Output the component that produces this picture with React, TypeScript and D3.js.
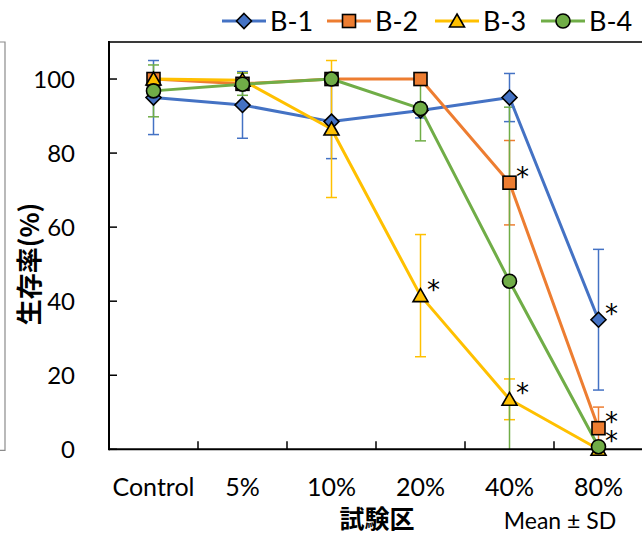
import React from "react";
import * as d3 from "d3";

const categories = ["Control", "5%", "10%", "20%", "40%", "80%"];
const seriesNames = ["B-1", "B-2", "B-3", "B-4"];
const b1Mean = [95, 93, 88.5, 91.5, 95, 35];
const b1Sd = [10, 9, 10, 2, 6.5, 19];
const b2Mean = [100, 98.7, 100, 100, 72, 5.7];
const b2Sd = [0, 0, 0, 0, 11.4, 5.7];
const b3Mean = [100, 99.7, 86.5, 41.5, 13.5, 0];
const b3Sd = [0, 2, 18.5, 16.5, 5.5, 0];
const b4Mean = [96.8, 98.6, 100, 92, 45.4, 0.7];
const b4Sd = [7, 3, 0, 8.7, 47, 0];
const yTicks = [0, 20, 40, 60, 80, 100];
const starSeries = ["B-3", "B-2", "B-3", "B-1", "B-2", "B-4"];
const starCats = ["20%", "40%", "40%", "80%", "80%", "80%"];

const colors = ["#4472C4", "#ED7D31", "#FFC000", "#70AD47"];
const shapes = ["diamond", "square", "triangle", "circle"];
const means = [b1Mean, b2Mean, b3Mean, b4Mean];
const sds = [b1Sd, b2Sd, b3Sd, b4Sd];

const LATIN = "Lato, 'Open Sans', sans-serif";
const CJK = "'Noto Sans CJK JP', sans-serif";

function Marker({ shape, x, y, color }: { shape: string; x: number; y: number; color: string }) {
  const sw = 1.6;
  if (shape === "diamond") {
    const r = 7.5;
    return <path d={`M${x},${y - r}L${x + r},${y}L${x},${y + r}L${x - r},${y}Z`} fill={color} stroke="#000" strokeWidth={sw} />;
  }
  if (shape === "square") {
    const r = 6.5;
    return <rect x={x - r} y={y - r} width={2 * r} height={2 * r} fill={color} stroke="#000" strokeWidth={sw} />;
  }
  if (shape === "triangle") {
    return <path d={`M${x},${y - 7}L${x + 7.5},${y + 6}L${x - 7.5},${y + 6}Z`} fill={color} stroke="#000" strokeWidth={sw} />;
  }
  return <circle cx={x} cy={y} r={7} fill={color} stroke="#000" strokeWidth={sw} />;
}

export default function App() {
  const W = 642, H = 535;
  const left = 109, right = 643, top = 42, bottom = 449.3;
  const x = d3.scaleBand<string>().domain(categories).range([left, right]).padding(0);
  const y = d3.scaleLinear().domain([0, 110]).range([bottom, top]);
  const cx = (c: string) => (x(c) as number) + x.bandwidth() / 2;
  const lineGen = d3.line<number>().x((_, i) => cx(categories[i])).y((v) => y(v));
  const tickXs = d3.range(categories.length + 1).map((i) => left + i * x.bandwidth());
  const capW = 5.5;

  return (
    <svg width={W} height={H} style={{ position: "absolute", left: 0, top: 0, background: "#fff" }}>
      {/* left partial frame */}
      <path d={`M0,${top}H5V${bottom + 1}H0`} fill="none" stroke="#8c8c8c" strokeWidth={1.2} />
      {/* top border */}
      <line x1={left} x2={W} y1={top} y2={top} stroke="#3a3a3a" strokeWidth={2} />

      {/* error bars */}
      {means.map((m, s) => (
        <g key={"e" + s} stroke={colors[s]} strokeWidth={1.5}>
          {m.map((v, i) => {
            const sd = sds[s][i];
            if (!sd) return null;
            const xc = cx(categories[i]);
            const hi = y(Math.min(110, v + sd));
            const loV = v - sd;
            const lo = y(Math.max(0, loV));
            return (
              <g key={i}>
                <line x1={xc} x2={xc} y1={hi} y2={lo} />
                <line x1={xc - capW} x2={xc + capW} y1={hi} y2={hi} />
                {loV >= 0 && <line x1={xc - capW} x2={xc + capW} y1={lo} y2={lo} />}
              </g>
            );
          })}
        </g>
      ))}

      {/* axes */}
      <line x1={left} x2={left} y1={top - 1} y2={bottom + 1} stroke="#000" strokeWidth={2} />
      <line x1={left} x2={W} y1={bottom} y2={bottom} stroke="#000" strokeWidth={2} />
      {yTicks.map((t) => (
        <g key={"yt" + t}>
          <line x1={left} x2={left + 8} y1={y(t)} y2={y(t)} stroke="#000" strokeWidth={1.5} />
          <text x={75} y={y(t)} dy="0.36em" textAnchor="end" fontFamily={LATIN} fontSize={24} fill="#000">
            {t}
          </text>
        </g>
      ))}
      {tickXs.map((tx, i) => (
        <line key={"xt" + i} x1={tx} x2={tx} y1={bottom} y2={bottom - 8} stroke="#000" strokeWidth={1.5} />
      ))}
      {categories.map((c) => (
        <text key={"xl" + c} x={cx(c)} y={487} dy="0.36em" textAnchor="middle" fontFamily={LATIN} fontSize={25} fill="#000">
          {c}
        </text>
      ))}

      {/* lines */}
      {means.map((m, s) => (
        <path key={"l" + s} d={lineGen(m) as string} fill="none" stroke={colors[s]} strokeWidth={3} strokeLinejoin="round" />
      ))}
      {/* markers */}
      {means.map((m, s) => (
        <g key={"m" + s}>
          {m.map((v, i) => (
            <Marker key={i} shape={shapes[s]} x={cx(categories[i])} y={y(v)} color={colors[s]} />
          ))}
        </g>
      ))}

      {/* significance stars */}
      {starSeries.map((sn, k) => {
        const s = seriesNames.indexOf(sn);
        const i = categories.indexOf(starCats[k]);
        const px = cx(categories[i]);
        const py = y(means[s][i]);
        return (
          <text key={"st" + k} x={px + 13} y={py + 3} textAnchor="middle" fontFamily="'DejaVu Sans', sans-serif" fontSize={26} fill="#000">
            *
          </text>
        );
      })}

      {/* axis titles */}
      <text transform="translate(30,264) rotate(-90)" textAnchor="middle" dy="0.36em" fontFamily={CJK} fontWeight="bold" fontSize={26} fill="#000">
        生存率(%)
      </text>
      <text x={377} y={519} dy="0.36em" textAnchor="middle" fontFamily={CJK} fontWeight="bold" fontSize={25} fill="#000">
        試験区
      </text>
      <text x={560} y={521} dy="0.36em" textAnchor="middle" fontFamily={LATIN} fontSize={23} fill="#000">
        Mean ± SD
      </text>

      {/* legend */}
      {seriesNames.map((n, s) => {
        const mx = [244, 349, 457, 563][s];
        return (
          <g key={"lg" + s}>
            <line x1={mx - 22} x2={mx + 22} y1={21} y2={21} stroke={colors[s]} strokeWidth={3} />
            <Marker shape={shapes[s]} x={mx} y={21} color={colors[s]} />
            <text x={mx + 26} y={21} dy="0.36em" fontFamily={LATIN} fontSize={27} fill="#000">
              {n}
            </text>
          </g>
        );
      })}
    </svg>
  );
}
